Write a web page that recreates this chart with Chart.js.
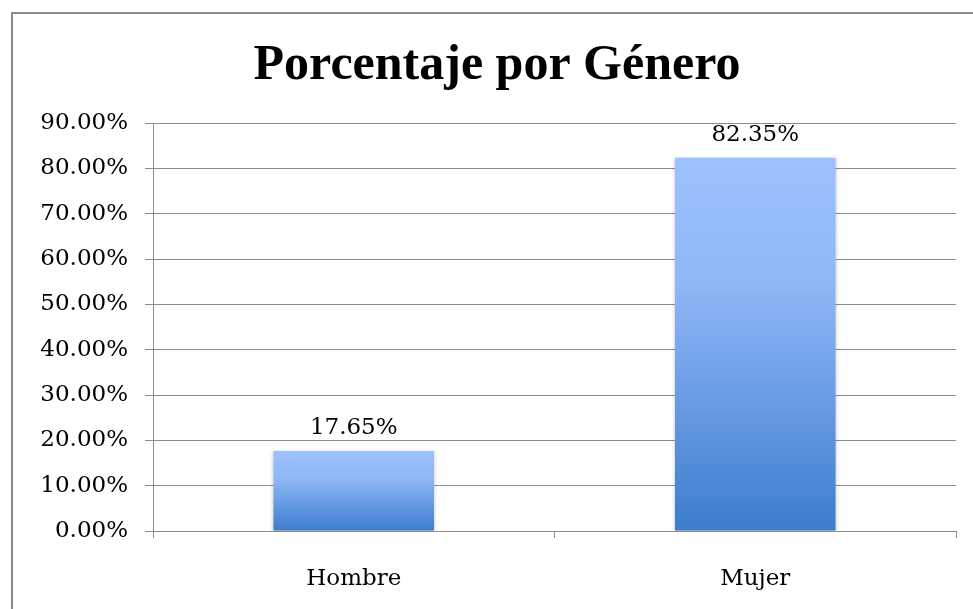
<!DOCTYPE html>
<html>
<head>
<meta charset="utf-8">
<script src="https://cdn.jsdelivr.net/npm/chart.js@4.4.1/dist/chart.umd.min.js"></script>
<style>
    body { margin: 0; background: #fff; }
    #wrap { position: relative; width: 973px; height: 609px; overflow: hidden; }
    #frame { position: absolute; left: 11px; top: 12px; width: 1000px; height: 700px; border: 2px solid #8a8a8a; box-sizing: border-box; pointer-events: none; }
    canvas { position: absolute; left: 0; top: 0; }
</style>
</head>
<body>
<div id="wrap">
    <canvas id="gender-chart" width="973" height="609"></canvas>
    <div id="frame"></div>
</div>
<script>
// Chart data
const categories = ['Hombre', 'Mujer'];
const percentages = [17.65, 82.35];
const chartTitle = 'Porcentaje por Género';
const yMin = 0;
const yMax = 90;
const yStep = 10;

const serif = '"DejaVu Serif", "Liberation Serif", serif';
const titleFont = '"Liberation Serif", "DejaVu Serif", serif';
const gridColor = '#8c8c8c';

// Draws the value above each bar
const barLabels = {
    id: 'barLabels',
    afterDatasetsDraw(chart) {
        const ctx = chart.ctx;
        const meta = chart.getDatasetMeta(0);
        ctx.save();
        ctx.font = '23px ' + serif;
        ctx.fillStyle = '#000';
        ctx.textAlign = 'center';
        ctx.textBaseline = 'alphabetic';
        meta.data.forEach((bar, i) => {
            ctx.fillText(percentages[i].toFixed(2) + '%', bar.x, bar.y - 17);
        });
        ctx.restore();
    }
};

// Soft shadow round the bars
const barShadow = {
    id: 'barShadow',
    beforeDatasetDraw(chart) {
        const ctx = chart.ctx;
        ctx.save();
        ctx.shadowColor = 'rgba(0, 0, 0, 0.22)';
        ctx.shadowBlur = 4;
        ctx.shadowOffsetX = 0;
        ctx.shadowOffsetY = 1;
    },
    afterDatasetDraw(chart) {
        chart.ctx.restore();
    }
};

function barGradient(context) {
    const chart = context.chart;
    if (!chart.chartArea || !chart.scales.y) return '#6d9eeb';
    const y = chart.scales.y;
    const top = y.getPixelForValue(context.raw);
    const bottom = y.getPixelForValue(0);
    const g = chart.ctx.createLinearGradient(0, top, 0, bottom);
    g.addColorStop(0, '#9cc2ff');
    g.addColorStop(0.35, '#8fb6f6');
    g.addColorStop(1, '#3c7dcd');
    return g;
}

const ctx = document.getElementById('gender-chart').getContext('2d');
const genderChart = new Chart(ctx, {
    type: 'bar',
    data: {
        labels: categories,
        datasets: [{
            data: percentages,
            backgroundColor: barGradient,
            borderWidth: 0,
            categoryPercentage: 0.8,
            barPercentage: 0.5
        }]
    },
    plugins: [barShadow, barLabels],
    options: {
        responsive: false,
        animation: false,
        devicePixelRatio: 1,
        layout: {
            padding: { left: 38, right: 17, top: 0, bottom: 19 }
        },
        plugins: {
            legend: { display: false },
            tooltip: { enabled: false },
            title: {
                display: true,
                text: chartTitle,
                color: '#000',
                font: { family: titleFont, size: 50, weight: 'bold' },
                padding: { top: 36, bottom: 27 }
            }
        },
        scales: {
            x: {
                afterFit: scale => { scale.height = 59; },
                grid: {
                    offset: true,
                    drawOnChartArea: false,
                    drawTicks: true,
                    tickLength: 7,
                    color: gridColor
                },
                border: { display: true, color: gridColor },
                ticks: {
                    color: '#000',
                    font: { family: serif, size: 23 },
                    padding: 27
                }
            },
            y: {
                min: yMin,
                max: yMax,
                afterFit: scale => { scale.width = 115; },
                grid: {
                    color: gridColor,
                    tickLength: 8
                },
                border: { display: true, color: gridColor },
                ticks: {
                    stepSize: yStep,
                    color: '#000',
                    font: { family: serif, size: 23 },
                    padding: 17,
                    callback: v => v.toFixed(2) + '%'
                }
            }
        }
    }
});
</script>
</body>
</html>
